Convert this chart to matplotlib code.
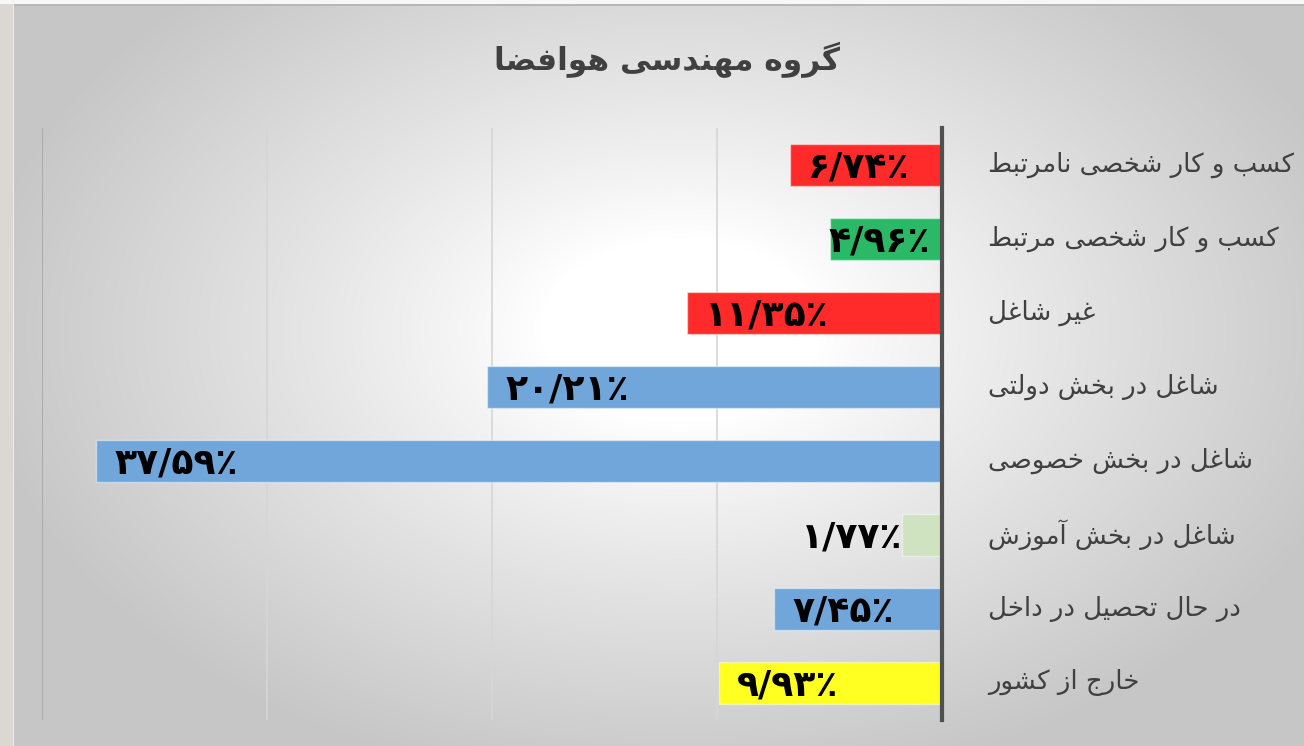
import numpy as np
import matplotlib
matplotlib.use("Agg")
import matplotlib.pyplot as plt

# ---------------- data ----------------
categories = [
    "کسب و کار شخصی نامرتبط",
    "کسب و کار شخصی مرتبط",
    "غیر شاغل",
    "شاغل در بخش دولتی",
    "شاغل در بخش خصوصی",
    "شاغل در بخش آموزش",
    "در حال تحصیل در داخل",
    "خارج از کشور",
]
values = [6.74, 4.96, 11.35, 20.21, 37.59, 1.77, 7.45, 9.93]
bar_colors = ["#FF2A2A", "#2BB968", "#FF2A2A", "#70A6D9",
              "#70A6D9", "#CFE3C1", "#70A6D9", "#FFFF22"]
title_text = "گروه مهندسی هوافضا"
x_ticks = [0, 10, 20, 30, 40]

# ---------------- minimal Arabic/Persian shaping ----------------
FORMS = {
    '\u0627': ('\uFE8D', '\uFE8E', None, None),
    '\u0622': ('\uFE81', '\uFE82', None, None),
    '\u0628': ('\uFE8F', '\uFE90', '\uFE91', '\uFE92'),
    '\u062A': ('\uFE95', '\uFE96', '\uFE97', '\uFE98'),
    '\u062C': ('\uFE9D', '\uFE9E', '\uFE9F', '\uFEA0'),
    '\u062D': ('\uFEA1', '\uFEA2', '\uFEA3', '\uFEA4'),
    '\u062E': ('\uFEA5', '\uFEA6', '\uFEA7', '\uFEA8'),
    '\u062F': ('\uFEA9', '\uFEAA', None, None),
    '\u0631': ('\uFEAD', '\uFEAE', None, None),
    '\u0632': ('\uFEAF', '\uFEB0', None, None),
    '\u0633': ('\uFEB1', '\uFEB2', '\uFEB3', '\uFEB4'),
    '\u0634': ('\uFEB5', '\uFEB6', '\uFEB7', '\uFEB8'),
    '\u0635': ('\uFEB9', '\uFEBA', '\uFEBB', '\uFEBC'),
    '\u0636': ('\uFEBD', '\uFEBE', '\uFEBF', '\uFEC0'),
    '\u0637': ('\uFEC1', '\uFEC2', '\uFEC3', '\uFEC4'),
    '\u0639': ('\uFEC9', '\uFECA', '\uFECB', '\uFECC'),
    '\u063A': ('\uFECD', '\uFECE', '\uFECF', '\uFED0'),
    '\u0641': ('\uFED1', '\uFED2', '\uFED3', '\uFED4'),
    '\u0644': ('\uFEDD', '\uFEDE', '\uFEDF', '\uFEE0'),
    '\u0645': ('\uFEE1', '\uFEE2', '\uFEE3', '\uFEE4'),
    '\u0646': ('\uFEE5', '\uFEE6', '\uFEE7', '\uFEE8'),
    '\u0647': ('\uFEE9', '\uFEEA', '\uFEEB', '\uFEEC'),
    '\u0648': ('\uFEED', '\uFEEE', None, None),
    '\u06A9': ('\uFB8E', '\uFB8F', '\uFB90', '\uFB91'),
    '\u06AF': ('\uFB92', '\uFB93', '\uFB94', '\uFB95'),
    '\u06CC': ('\uFBFC', '\uFBFD', '\uFBFE', '\uFBFF'),
}
LAMALEF = {'\u0627': ('\uFEFB', '\uFEFC'), '\u0622': ('\uFEF5', '\uFEF6')}


def shape(text):
    s = text.replace('\u0643', '\u06A9').replace('\u064A', '\u06CC')
    out = []
    i = 0
    n = len(s)
    while i < n:
        ch = s[i]
        if ch not in FORMS:
            out.append(ch)
            i += 1
            continue
        prev_j = i > 0 and s[i - 1] in FORMS and FORMS[s[i - 1]][2] is not None
        if ch == '\u0644' and i + 1 < n and s[i + 1] in LAMALEF:
            iso, fin = LAMALEF[s[i + 1]]
            out.append(fin if prev_j else iso)
            i += 2
            continue
        next_j = FORMS[ch][2] is not None and i + 1 < n and s[i + 1] in FORMS
        iso, fin, ini, med = FORMS[ch]
        if prev_j and next_j:
            out.append(med)
        elif prev_j:
            out.append(fin)
        elif next_j:
            out.append(ini)
        else:
            out.append(iso)
        i += 1
    return ''.join(out)[::-1]


PDIG = str.maketrans("0123456789", "۰۱۲۳۴۵۶۷۸۹")


def fa_percent(v):
    return f"{v:.2f}".replace(".", "/").translate(PDIG) + "٪"


# ---------------- figure ----------------
W, H = 1304, 746
fig = plt.figure(figsize=(W / 100, H / 100), dpi=100)

# background radial gradient
bg = fig.add_axes([0, 0, 1, 1], zorder=-10)
yy, xx = np.mgrid[0:H, 0:W]
d = np.sqrt(((xx - 680) / 700.0) ** 2 + ((yy - 330) / 460.0) ** 2)
t = np.clip((d - 0.2) / 0.8, 0, 1) ** 0.9
gray = 1.0 - t * (1.0 - 0.78)
img = np.dstack([gray, gray, gray])
img[:, :13, :] = np.array([0.86, 0.85, 0.83])
img[:4, :, :] = 0.97
img[4:6, 13:, :] = 0.72
img[:, 13, :] = 0.93
bg.imshow(img, extent=[0, W, H, 0], aspect='auto', interpolation='bilinear')
bg.set_xlim(0, W)
bg.set_ylim(H, 0)
bg.axis('off')

ax = fig.add_axes([42 / W, 1 - 720 / H, 900 / W, 592 / H])
ax.set_facecolor('none')

ypos = np.arange(len(categories))
ax.barh(ypos, values, height=0.56, color=bar_colors,
        edgecolor=(1, 1, 1, 0.45), linewidth=1.0, zorder=3)

ax.set_xlim(40, 0)
ax.set_ylim(len(categories) - 0.5, -0.5)
ax.set_xticks(x_ticks)
ax.xaxis.grid(True, color="#d6d6d6", linewidth=1.2, zorder=0)
ax.set_axisbelow(True)
ax.tick_params(axis='x', which='both', length=0, labelbottom=False)
ax.tick_params(axis='y', which='both', length=0, labelleft=False)
for sp in ['top', 'bottom', 'left']:
    ax.spines[sp].set_visible(False)
ax.spines['right'].set_color('#505050')
ax.spines['right'].set_linewidth(3)
ax.spines['right'].set_zorder(5)
ax.axvline(40, color="#a8a8a8", linewidth=1.3, zorder=1)

# category labels (to the right of the axis)
for y, cat in zip(ypos, categories):
    ax.annotate(shape(cat), xy=(0, y), xycoords='data',
                xytext=(33, 0), textcoords='offset points',
                ha='left', va='center', fontsize=18.7,
                color='#404040', family='DejaVu Sans', annotation_clip=False)

# value labels
for y, v in zip(ypos, values):
    txt = fa_percent(v)
    if v < 3:
        x, ha = v, 'right'
    elif v < 6:
        x, ha = v + 0.1, 'left'
    else:
        x, ha = v - 0.8, 'left'
    ax.text(x, y + 0.04, txt, ha=ha, va='center', fontsize=26,
            fontweight='bold', color='black', zorder=6)

fig.text(667 / W, 1 - 60 / H, shape(title_text), ha='center', va='center',
         fontsize=22.5, fontweight='bold', color='#404040', family='DejaVu Sans')

fig.savefig('out.png', dpi=100)
